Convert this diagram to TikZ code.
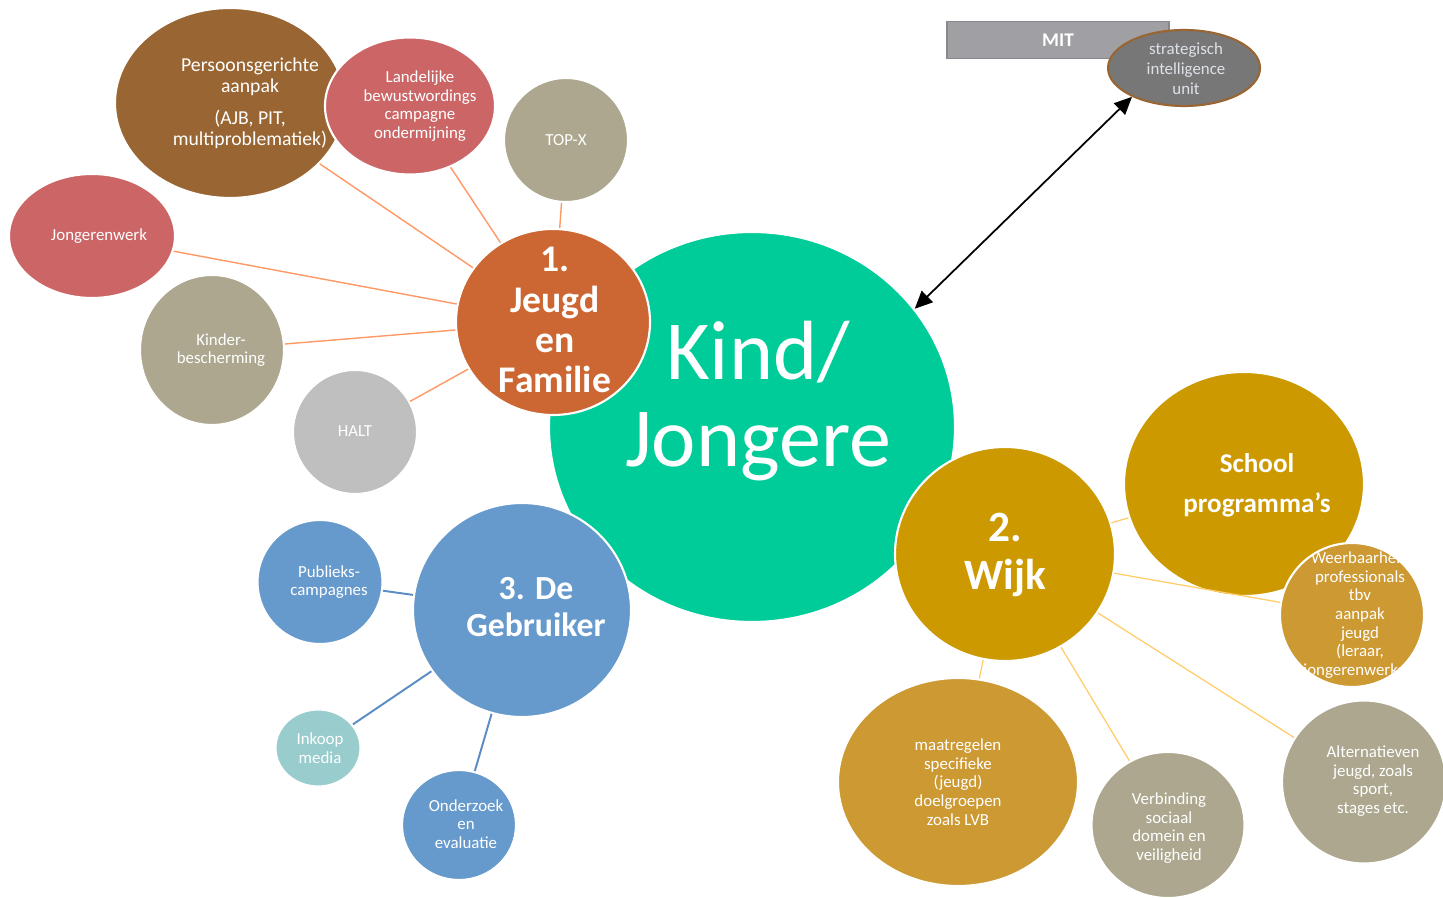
\documentclass[tikz,border=0pt]{standalone}
\usepackage{fontspec}
\setmainfont{Carlito}
\usetikzlibrary{shapes.geometric}
\usetikzlibrary{arrows.meta}
\definecolor{kgreen}{HTML}{00CC99}
\definecolor{jorange}{HTML}{CC6633}
\definecolor{pbrown}{HTML}{996633}
\definecolor{lrose}{HTML}{CC6666}
\definecolor{khaki}{HTML}{ACA78E}
\definecolor{lgrey}{HTML}{BFBFBF}
\definecolor{gblue}{HTML}{6699CC}
\definecolor{mteal}{HTML}{99CCCC}
\definecolor{wgold}{HTML}{CC9900}
\definecolor{wochre}{HTML}{CC9933}
\definecolor{mitgrey}{HTML}{A0A0A4}
\definecolor{siugrey}{HTML}{777777}
\definecolor{siutext}{HTML}{DDE2E8}
\definecolor{lnorange}{HTML}{FF9966}
\definecolor{lnblue}{HTML}{5B8CC4}
\definecolor{lnyellow}{HTML}{FFCC66}
\tikzset{bubble/.style = {ellipse, draw=white, line width=0.6pt, inner sep=0}}
\tikzset{dims/.style 2 args = {minimum width=#1*0.01cm, minimum height=#2*0.01cm}}
\tikzset{lbl/.style = {text=white, align=center, inner sep=0, font=\fontsize{4.8}{5.3}\selectfont}}
\tikzset{lblbig/.style = {lbl, font=\bfseries\fontsize{10.7}{11.4}\selectfont}}
\tikzset{jline/.style = {lnorange, line width=0.4pt}}
\tikzset{gline/.style = {lnblue, line width=0.55pt}}
\tikzset{wline/.style = {lnyellow, line width=0.35pt}}
\tikzset{dblarrow/.style = {{Triangle[length=5pt,width=4.5pt]}-{Triangle[length=5pt,width=4.5pt]}, line width=0.5pt}}

\begin{document}
\begin{tikzpicture}[x=0.01cm, y=-0.01cm]
    \fill [white] (0,0) rectangle (1443,898);
    \useasboundingbox (0,0) rectangle (1443,898);

    \node [bubble, fill=pbrown, dims={230}{190}] (persoon) at (230,103) {};
    \node [bubble, fill=lrose, dims={170}{137}] (landelijk) at (410,106) {};
    \node [bubble, fill=khaki, dims={124}{124}] (topx) at (566,140) {};
    \node [bubble, fill=lrose, dims={166}{124}] (jongeren) at (92,236) {};
    \node [bubble, fill=khaki, dims={144}{150}] (kinder) at (212,350) {};
    \node [bubble, fill=lgrey, dims={124}{124}] (halt) at (355,432) {};

    \node [bubble, fill=kgreen, dims={406}{390}] (kind) at (752,427) {};
    \node [bubble, fill=jorange, dims={194}{186}] (jeugd) at (553,322) {};

    \node [bubble, fill=gblue, dims={218}{214}] (gebruiker) at (522,610) {};
    \node [bubble, fill=gblue, dims={125}{124}] (publiek) at (320,582) {};
    \node [bubble, fill=mteal, dims={85}{77}] (inkoop) at (318,748) {};
    \node [bubble, fill=gblue, dims={114}{110}] (onderzoek) at (459,825) {};

    \node [bubble, fill=wgold, dims={220}{214}] (wijk) at (1005,554) {};
    \node [bubble, fill=wgold, dims={240}{224}] (school) at (1244,484) {};
    \node [bubble, fill=wochre, dims={144}{144},
        path picture={\node [lbl] (weertxt) at ([xshift=0.08cm]path picture bounding box.center)
        {Weerbaarheid\\professionals\\tbv\\aanpak\\jeugd\\(leraar,\\jongerenwerker)};}] (weerbaar) at (1352,615) {};
    \node [bubble, fill=wochre, dims={240}{208}] (maatregel) at (958,782) {};
    \node [bubble, fill=khaki, dims={153}{146}] (verbinding) at (1168,825) {};
    \node [bubble, fill=khaki, dims={164}{163}] (alternatief) at (1364,782) {};

    \node [rectangle, fill=mitgrey, draw=mitgrey!85!black, line width=0.4pt, dims={222}{37}] (mit) at (1058,40) {};
    \node [ellipse, fill=siugrey, draw=pbrown, line width=0.6pt, inner sep=0, dims={152}{76}] (siu) at (1184,68) {};

    \draw [jline] (jeugd) -- (persoon);
    \draw [jline] (jeugd) -- (landelijk);
    \draw [jline] (jeugd) -- (topx);
    \draw [jline] (jeugd) -- (jongeren);
    \draw [jline] (jeugd) -- (kinder);
    \draw [jline] (jeugd) -- (halt);

    \draw [gline] (gebruiker) -- (publiek);
    \draw [gline] (gebruiker) -- (inkoop);
    \draw [gline] (gebruiker) -- (onderzoek);

    \draw [wline] (wijk) -- (school);
    \draw [wline] (wijk) -- (weerbaar);
    \draw [wline] (wijk) -- (maatregel);
    \draw [wline] (wijk) -- (verbinding);
    \draw [wline] (wijk) -- (alternatief);

    \draw [dblarrow] (kind.36) -- (siu.209);

    \node [lbl, font=\fontsize{23.9}{24.7}\selectfont] (kindtxt) at (758,401) {Kind/\\Jongere};
    \node [lblbig] (jeugdtxt) at (555,320) {1.\\Jeugd\\en\\Familie};
    \node [lblbig, font=\bfseries\fontsize{9.6}{10.5}\selectfont] (gebruikertxt) at (536,607) {3. De\\Gebruiker};
    \node [lblbig, font=\bfseries\fontsize{12.3}{13.6}\selectfont] (wijktxt) at (1005,555) {2.\\Wijk};
    \node [lblbig, font=\bfseries\fontsize{7.7}{11.4}\selectfont] (schooltxt) at (1257,485) {School\\programma’s};

    \node [lbl, font=\fontsize{5.6}{6}\selectfont] (persoontxt) at (250,103) {Persoonsgerichte\\aanpak\\[3pt](AJB, PIT,\\multiproblematiek)};
    \node [lbl] (landelijktxt) at (420,106) {Landelijke\\bewustwordings\\campagne\\ondermijning};
    \node [lbl] (topxtxt) at (566,140) {TOP-X};
    \node [lbl] (jongerentxt) at (99,236) {Jongerenwerk};
    \node [lbl] (kindertxt) at (221,350) {Kinder-\\bescherming};
    \node [lbl] (halttxt) at (355,431) {HALT};

    \node [lbl] (publiektxt) at (329,582) {Publieks-\\campagnes};
    \node [lbl] (inkooptxt) at (320,748) {Inkoop\\media};
    \node [lbl] (onderzoektxt) at (466,824) {Onderzoek\\en\\evaluatie};

    \node [lbl] (maatregeltxt) at (958,782) {maatregelen\\specifieke\\(jeugd)\\doelgroepen\\zoals LVB};
    \node [lbl] (verbindingtxt) at (1169,828) {Verbinding\\sociaal\\domein en\\veiligheid};
    \node [lbl] (alternatieftxt) at (1373,781) {Alternatieven\\jeugd, zoals\\sport,\\stages etc.};

    \node [lbl, font=\bfseries\fontsize{5.5}{6}\selectfont] (mittxt) at (1058,40) {MIT};
    \node [lbl, text=siutext, font=\fontsize{4.8}{5.7}\selectfont] (siutxt) at (1186,69) {strategisch\\intelligence\\unit};
\end{tikzpicture}
\end{document}
